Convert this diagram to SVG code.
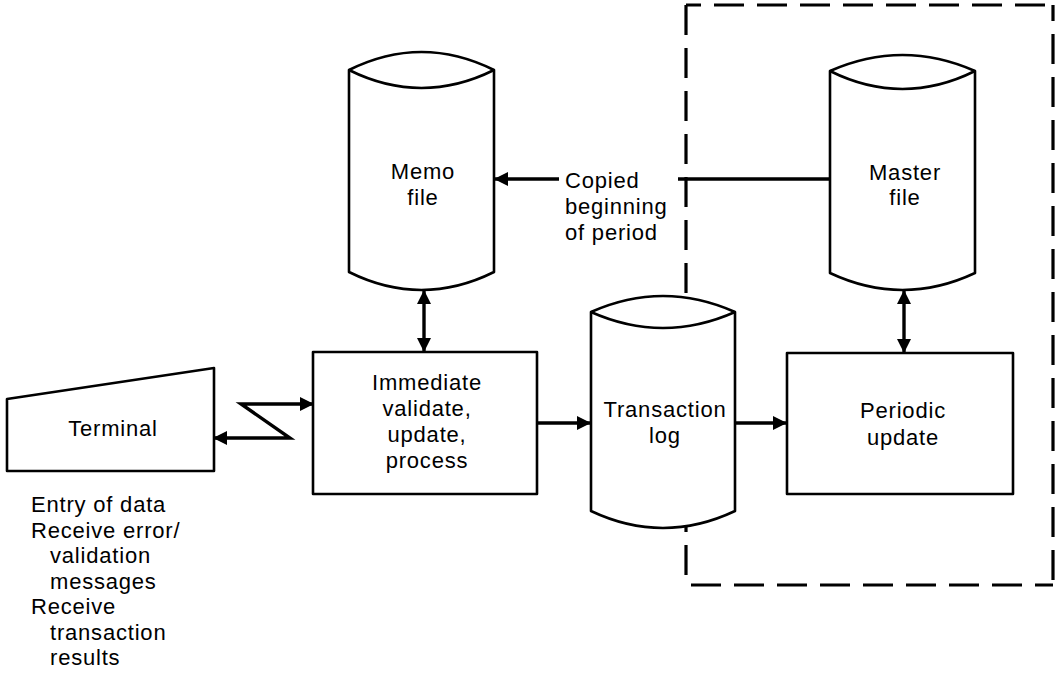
<svg xmlns="http://www.w3.org/2000/svg" width="1057" height="676" viewBox="0 0 1057 676">
  <style>
    .shape { fill: #fff; stroke: #000; stroke-width: 2.6; stroke-linejoin: round; }
    .link { fill: none; stroke: #000; stroke-width: 3.4; }
    .dash { fill: none; stroke: #000; stroke-width: 3.2; stroke-dasharray: 30 13; }
    text { font-family: "Liberation Sans", Arial, sans-serif; font-size: 22px; letter-spacing: 0.8px; fill: #000; }
    .c { text-anchor: middle; }
  </style>
  <defs>
    <marker id="ah" viewBox="0 0 14 14" refX="13" refY="7" markerWidth="14" markerHeight="14" markerUnits="userSpaceOnUse" orient="auto-start-reverse">
      <path d="M0,0 L14,7 L0,14 z" fill="#000"/>
    </marker>
  </defs>
  <rect width="1057" height="676" fill="#fff"/>

  <!-- dashed boundary of the periodic processing area -->
  <g id="boundary">
    <line class="dash" x1="686" y1="5" x2="1053" y2="5" stroke-dashoffset="15"/>
    <line class="dash" x1="1053" y1="5" x2="1053" y2="585" stroke-dashoffset="14"/>
    <line class="dash" x1="1053" y1="585" x2="686" y2="585" stroke-dashoffset="12"/>
    <line class="dash" x1="686" y1="585" x2="686" y2="527" stroke-dashoffset="-10"/>
    <line class="dash" x1="686" y1="5" x2="686" y2="299" stroke-dashoffset="0"/>
  </g>

  <!-- connectors -->
  <g id="connectors">
    <path class="link" d="M313,404 H241 L290,438 H214" marker-start="url(#ah)" marker-end="url(#ah)"/>
    <line class="link" x1="424" y1="291" x2="424" y2="351" marker-start="url(#ah)" marker-end="url(#ah)"/>
    <line class="link" x1="904" y1="291" x2="904" y2="352" marker-start="url(#ah)" marker-end="url(#ah)"/>
    <line class="link" x1="537" y1="423" x2="590" y2="423" marker-end="url(#ah)"/>
    <line class="link" x1="735" y1="423" x2="786" y2="423" marker-end="url(#ah)"/>
    <line class="link" x1="830" y1="179" x2="678" y2="179"/>
    <line class="link" x1="559" y1="179" x2="495" y2="179" marker-end="url(#ah)"/>
  </g>

  <g id="copied-label">
    <text x="565" y="188">Copied</text>
    <text x="565" y="214">beginning</text>
    <text x="565" y="240">of period</text>
  </g>

  <g id="terminal">
    <polygon class="shape" points="7,399 214,368 214,471 7,471"/>
    <text class="c" x="113" y="436">Terminal</text>
  </g>

  <g id="terminal-notes">
    <text x="31" y="512">Entry of data</text>
    <text x="31" y="538">Receive error/</text>
    <text x="50" y="563">validation</text>
    <text x="50" y="589">messages</text>
    <text x="31" y="614">Receive</text>
    <text x="50" y="640">transaction</text>
    <text x="50" y="665">results</text>
  </g>

  <g id="memo-file">
    <path class="shape" d="M349,70 Q421.5,34 494,70 V272 Q421.5,308 349,272 Z"/>
    <path class="shape" fill="none" d="M349,70 Q421.5,106 494,70"/>
    <text class="c" x="423" y="179">Memo</text>
    <text class="c" x="423" y="205">file</text>
  </g>

  <g id="master-file">
    <path class="shape" d="M830,71 Q902.5,39 975,71 V273 Q902.5,307 830,273 Z"/>
    <path class="shape" fill="none" d="M830,71 Q902.5,107 975,71"/>
    <text class="c" x="905" y="180">Master</text>
    <text class="c" x="905" y="205">file</text>
  </g>

  <g id="immediate">
    <rect class="shape" x="313" y="352" width="224" height="142"/>
    <text class="c" x="427" y="390">Immediate</text>
    <text class="c" x="427" y="416">validate,</text>
    <text class="c" x="427" y="442">update,</text>
    <text class="c" x="427" y="468">process</text>
  </g>

  <g id="transaction-log">
    <path class="shape" d="M591,312 Q663,280 735,312 V511 Q663,545 591,511 Z"/>
    <path class="shape" fill="none" d="M591,312 Q663,344 735,312"/>
    <text class="c" x="665" y="417">Transaction</text>
    <text class="c" x="665" y="443">log</text>
  </g>

  <g id="periodic">
    <rect class="shape" x="787" y="353" width="226" height="141"/>
    <text class="c" x="903" y="418">Periodic</text>
    <text class="c" x="903" y="445">update</text>
  </g>
</svg>
